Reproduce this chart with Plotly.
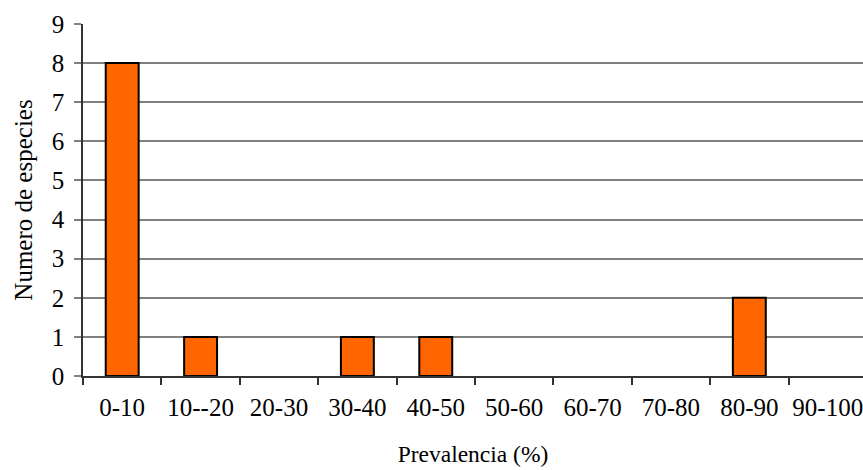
import plotly.graph_objects as go

categories = ["0-10", "10--20", "20-30", "30-40", "40-50", "50-60", "60-70", "70-80", "80-90", "90-100"]
values = [8, 1, 0, 1, 1, 0, 0, 0, 2, 0]
y_ticks = list(range(0, 10))

font_family = "Liberation Serif"

# zero-height bars are not drawn in the reference
bar_values = [v if v != 0 else None for v in values]

fig = go.Figure(go.Bar(
    x=categories,
    y=bar_values,
    marker=dict(color="#FF6600", line=dict(color="black", width=2)),
    width=0.42,
))

fig.update_layout(
    width=863, height=470,
    margin=dict(l=83, r=0, t=24, b=94),
    plot_bgcolor="white", paper_bgcolor="white",
    font=dict(family=font_family, size=25, color="black"),
    showlegend=False,
    xaxis=dict(
        type="category",
        range=[-0.5, 9.45],
        showline=True, linecolor="#333333", linewidth=1.5,
        ticks="outside", tickson="boundaries", ticklen=7, tickcolor="#333333", tickwidth=1.5,
        showgrid=False,
        tickfont=dict(size=25),
        ticklabelstandoff=8,
        title=dict(text="Prevalencia (%)", font=dict(size=23.5), standoff=26),
    ),
    yaxis=dict(
        range=[0, 9],
        tickvals=y_ticks,
        showline=True, linecolor="#333333", linewidth=1.5,
        ticks="outside", ticklen=7, tickcolor="#808080", tickwidth=1.5,
        showgrid=True, gridcolor="#808080", gridwidth=1.5,
        zeroline=False,
        tickfont=dict(size=25),
        ticklabelstandoff=5,
        title=dict(text="Numero de especies", font=dict(size=25), standoff=12),
    ),
)

fig.write_html("out.html")
